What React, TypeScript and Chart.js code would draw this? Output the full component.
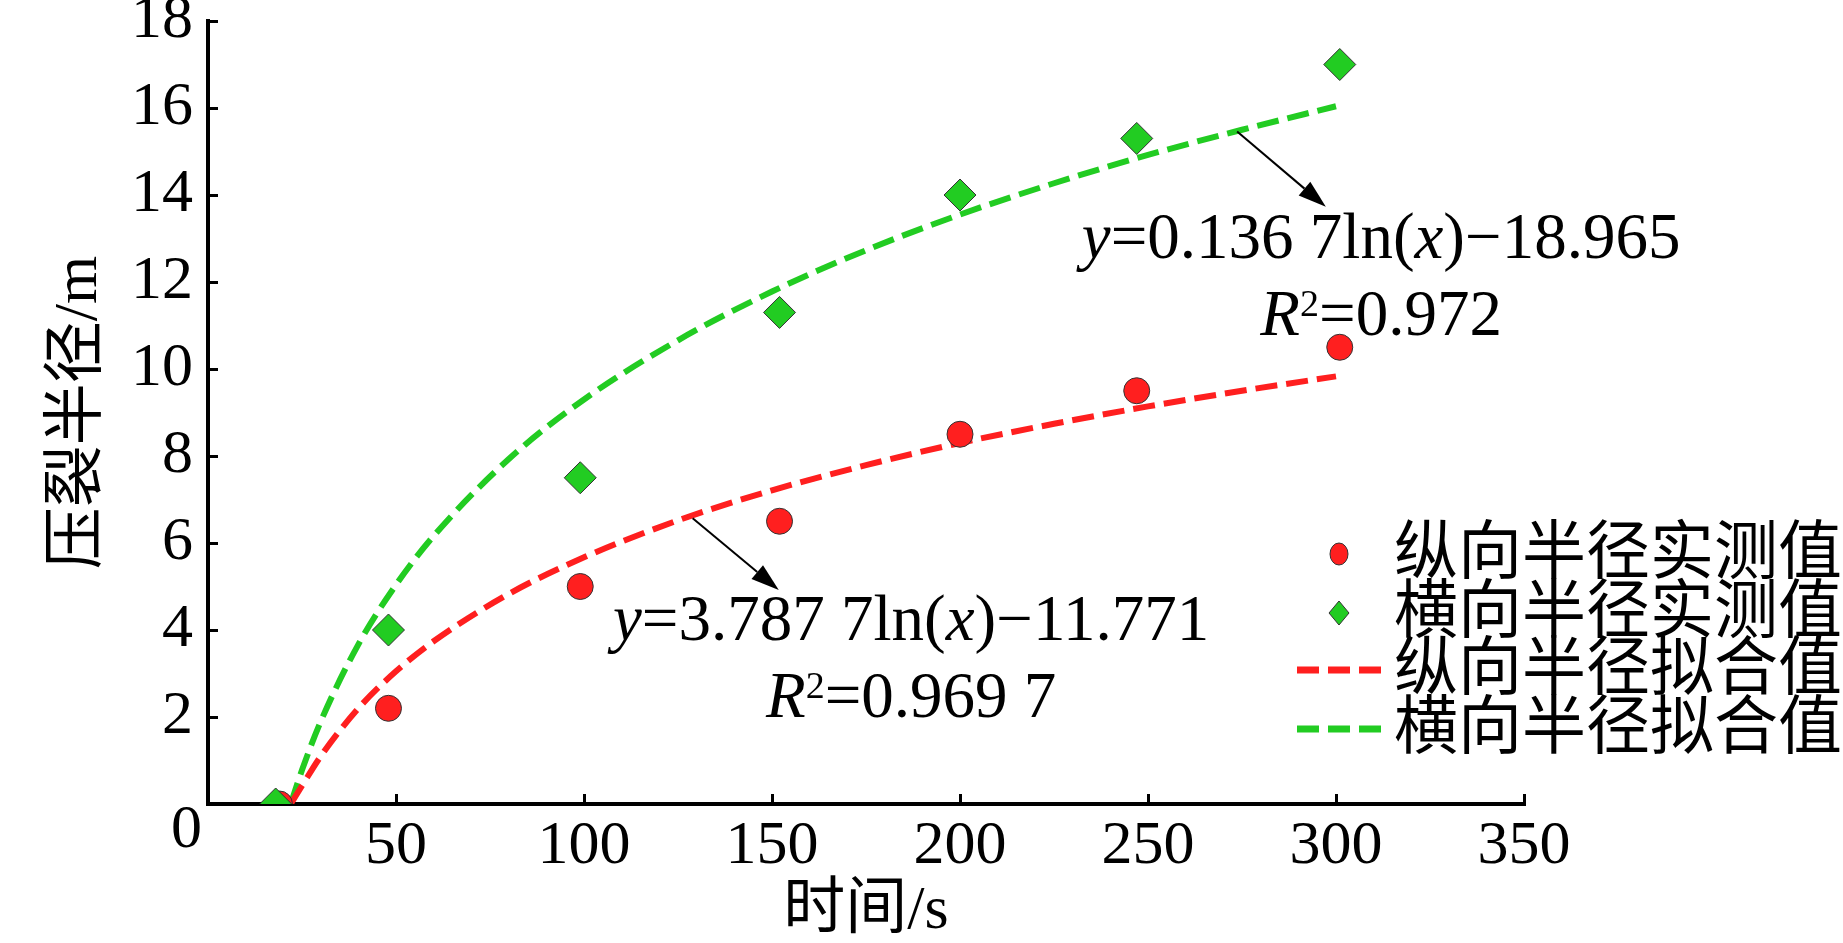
import React, { useEffect, useRef } from 'react';
import { Chart, registerables } from 'chart.js';

Chart.register(...registerables);

// measured points (time in s, radius in m)
const LONG_TIME = [19, 48, 99, 152, 200, 247, 301];
const LONG_RADIUS = [0, 2.2, 5.0, 6.5, 8.5, 9.5, 10.5];
const TRANS_TIME = [18, 48, 99, 152, 200, 247, 301];
const TRANS_RADIUS = [0, 4.0, 7.5, 11.3, 14.0, 15.3, 17.0];

// fitted curves
const FIT_TIME = [22, 25, 30, 40, 50, 60, 80, 100, 125, 150, 175, 200, 225, 250, 275, 300];
const LONG_FIT = [0, 0.42, 1.1, 2.2, 3.05, 3.74, 4.83, 5.67, 6.52, 7.21, 7.79, 8.3, 8.74, 9.14, 9.5, 9.83];
const TRANS_FIT = [0, 0.78, 1.9, 3.67, 5.04, 6.16, 7.93, 9.3, 10.66, 11.78, 12.73, 13.55, 14.27, 14.92, 15.5, 16.04];

const SERIES_LABELS = ['纵向半径实测值', '横向半径实测值', '纵向半径拟合值', '横向半径拟合值'];
const X_TITLE = '时间/s';
const Y_TITLE = '压裂半径/m';

const RED = '#ff1f1f';
const GREEN = '#22cc22';
const SERIF = '"Liberation Serif", "Noto Sans CJK SC"';

const toPts = (xs: number[], ys: number[]) => xs.map((x, i) => ({ x, y: ys[i] }));

// annotation text runs: [text, italic, superscript]
type Run = [string, boolean, boolean];
const NOTES: { x: number; y: number; lines: Run[][]; arrow: [number, number, number, number] }[] = [
  {
    x: 312, y: 12.55,
    lines: [
      [['y', true, false], ['=0.136 7ln(', false, false], ['x', true, false], [')\u221218.965', false, false]],
      [['R', true, false], ['2', false, true], ['=0.972', false, false]],
    ],
    arrow: [273.7, 15.46, 297.3, 13.73],
  },
  {
    x: 187, y: 3.77,
    lines: [
      [['y', true, false], ['=3.787 7ln(', false, false], ['x', true, false], [')\u221211.771', false, false]],
      [['R', true, false], ['2', false, true], ['=0.969 7', false, false]],
    ],
    arrow: [128.9, 6.57, 151.8, 4.92],
  },
];

const notesPlugin = {
  id: 'notes',
  afterDraw(chart: any) {
    const { ctx, scales } = chart;
    const xs = scales.x, ys = scales.y;
    const size = 65;
    ctx.save();
    ctx.fillStyle = '#000';
    ctx.strokeStyle = '#000';
    ctx.textBaseline = 'alphabetic';

    NOTES.forEach((n) => {
      // arrow
      const [ax1, ay1, ax2, ay2] = n.arrow;
      const x1 = xs.getPixelForValue(ax1), y1 = ys.getPixelForValue(ay1);
      const x2 = xs.getPixelForValue(ax2), y2 = ys.getPixelForValue(ay2);
      const ang = Math.atan2(y2 - y1, x2 - x1);
      const hl = 28, hw = 9;
      ctx.lineWidth = 2;
      ctx.beginPath();
      ctx.moveTo(x1, y1);
      ctx.lineTo(x2 - Math.cos(ang) * hl, y2 - Math.sin(ang) * hl);
      ctx.stroke();
      ctx.beginPath();
      ctx.moveTo(x2, y2);
      ctx.lineTo(x2 - Math.cos(ang) * hl - Math.sin(ang) * hw, y2 - Math.sin(ang) * hl + Math.cos(ang) * hw);
      ctx.lineTo(x2 - Math.cos(ang) * hl + Math.sin(ang) * hw, y2 - Math.sin(ang) * hl - Math.cos(ang) * hw);
      ctx.closePath();
      ctx.fill();

      // text
      const cx = xs.getPixelForValue(n.x);
      const by = ys.getPixelForValue(n.y);
      n.lines.forEach((line, li) => {
        const fontOf = (r: Run) =>
          `${r[1] ? 'italic ' : ''}${r[2] ? Math.round(size * 0.58) : size}px "Liberation Serif"`;
        let total = 0;
        line.forEach((r) => { ctx.font = fontOf(r); total += ctx.measureText(r[0]).width; });
        let x = cx - total / 2;
        const y = by + li * 77;
        line.forEach((r) => {
          ctx.font = fontOf(r);
          ctx.textAlign = 'left';
          ctx.fillText(r[0], x, r[2] ? y - size * 0.3 : y);
          x += ctx.measureText(r[0]).width;
        });
      });
    });

    // shared origin label
    ctx.font = `62px "Liberation Serif"`;
    ctx.textAlign = 'right';
    ctx.textBaseline = 'middle';
    ctx.fillText('0', xs.left - 6, ys.bottom + 27);
    ctx.restore();
  },
};

const legendPlugin = {
  id: 'sideLegend',
  afterDraw(chart: any) {
    const { ctx } = chart;
    const rowY = [554, 613, 670, 729];
    const symX = 1339;
    ctx.save();
    chart.data.datasets.forEach((ds: any, i: number) => {
      const y = rowY[i];
      if (ds.showLine === false) {
        ctx.fillStyle = ds.backgroundColor;
        ctx.strokeStyle = '#333';
        ctx.lineWidth = 1;
        ctx.beginPath();
        if (ds.pointStyle === 'rectRot') {
          ctx.moveTo(symX, y - 12);
          ctx.lineTo(symX + 10, y);
          ctx.lineTo(symX, y + 12);
          ctx.lineTo(symX - 10, y);
          ctx.closePath();
        } else {
          ctx.ellipse(symX, y, 9, 11, 0, 0, Math.PI * 2);
        }
        ctx.fill();
        ctx.stroke();
      } else {
        ctx.strokeStyle = ds.borderColor;
        ctx.lineWidth = 7;
        ctx.setLineDash([22, 9]);
        ctx.beginPath();
        ctx.moveTo(1297, y);
        ctx.lineTo(1382, y);
        ctx.stroke();
        ctx.setLineDash([]);
      }
      ctx.fillStyle = '#000';
      ctx.font = `64px ${SERIF}`;
      ctx.textAlign = 'left';
      ctx.textBaseline = 'middle';
      ctx.fillText(ds.label, 1394, y + 2);
    });
    ctx.restore();
  },
};

const App: React.FC = () => {
  const canvasRef = useRef<HTMLCanvasElement>(null);
  const chartRef = useRef<Chart | null>(null);

  useEffect(() => {
    if (!canvasRef.current) return;
    if (chartRef.current) chartRef.current.destroy();

    const tickFont = { family: '"Liberation Serif"', size: 62, lineHeight: 1 };
    const titleFont = { family: SERIF, size: 62, lineHeight: 1 };

    chartRef.current = new Chart(canvasRef.current, {
      type: 'scatter',
      data: {
        datasets: [
          {
            label: SERIES_LABELS[0],
            data: toPts(LONG_TIME, LONG_RADIUS),
            showLine: false,
            pointStyle: 'circle',
            pointRadius: 13,
            backgroundColor: RED,
            borderColor: '#333',
            borderWidth: 1,
            order: 1,
          },
          {
            label: SERIES_LABELS[1],
            data: toPts(TRANS_TIME, TRANS_RADIUS),
            showLine: false,
            pointStyle: 'rectRot',
            pointRadius: 16,
            backgroundColor: GREEN,
            borderColor: '#333',
            borderWidth: 1,
            order: 0,
          },
          {
            label: SERIES_LABELS[2],
            data: toPts(FIT_TIME, LONG_FIT),
            showLine: true,
            pointRadius: 0,
            borderColor: RED,
            backgroundColor: RED,
            borderWidth: 6,
            borderDash: [22, 9],
            cubicInterpolationMode: 'monotone',
            order: 2,
          },
          {
            label: SERIES_LABELS[3],
            data: toPts(FIT_TIME, TRANS_FIT),
            showLine: true,
            pointRadius: 0,
            borderColor: GREEN,
            backgroundColor: GREEN,
            borderWidth: 6,
            borderDash: [22, 9],
            cubicInterpolationMode: 'monotone',
            order: 3,
          },
        ],
      },
      options: {
        animation: false,
        responsive: true,
        maintainAspectRatio: false,
        layout: { padding: { left: 0, right: 319, top: 21, bottom: 0 } },
        plugins: {
          legend: { display: false },
          tooltip: { enabled: false },
        },
        scales: {
          x: {
            type: 'linear',
            min: 0,
            max: 350,
            ticks: {
              stepSize: 50,
              autoSkip: false,
              maxRotation: 0,
              font: tickFont,
              color: '#000',
              padding: 22,
              callback: (v: any) => (v === 0 ? '' : v),
            },
            grid: { drawOnChartArea: false, drawTicks: true, tickLength: -10, color: '#000', lineWidth: 3 },
            border: { display: true, color: '#000', width: 4 },
            title: { display: true, text: X_TITLE, font: titleFont, color: '#000', padding: { top: 0, bottom: 0 } },
            afterFit: (s: any) => { s.height = 139; s.paddingLeft = 0; s.paddingRight = 0; },
          },
          y: {
            type: 'linear',
            min: 0,
            max: 18,
            ticks: {
              stepSize: 2,
              font: tickFont,
              color: '#000',
              padding: 25,
              callback: (v: any) => (v === 0 ? '' : v),
            },
            grid: { drawOnChartArea: false, drawTicks: true, tickLength: -10, color: '#000', lineWidth: 3 },
            border: { display: true, color: '#000', width: 4 },
            title: { display: true, text: Y_TITLE, font: titleFont, color: '#000', padding: { top: 49, bottom: 0 } },
            afterFit: (s: any) => { s.width = 208; s.paddingTop = 0; s.paddingBottom = 0; },
          },
        },
      } as any,
      plugins: [notesPlugin, legendPlugin],
    });

    return () => {
      if (chartRef.current) {
        chartRef.current.destroy();
        chartRef.current = null;
      }
    };
  }, []);

  return (
    <div style={{ position: 'fixed', left: 0, top: 0, width: 1843, height: 943, background: '#fff' }}>
      <canvas ref={canvasRef}></canvas>
    </div>
  );
};

export default App;
